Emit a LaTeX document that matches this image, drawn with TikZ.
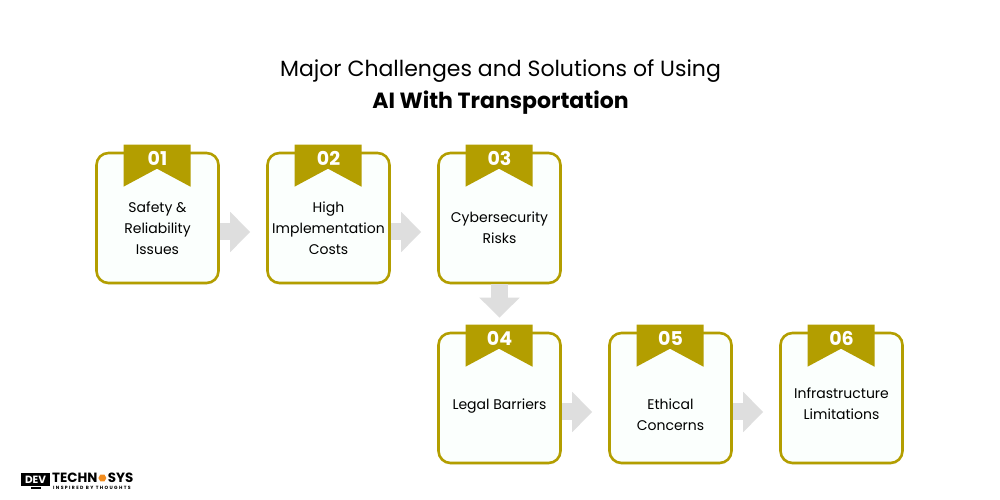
\documentclass[tikz,border=0pt]{standalone}
\usepackage{fontspec}
\setmainfont{Poppins}
\usepackage{tikz}
\usetikzlibrary{arrows.meta}
\usetikzlibrary{positioning}
\usetikzlibrary{shadows}
\usetikzlibrary{shapes.geometric}
\definecolor{olivegold}{HTML}{B39E00}
\definecolor{arrowgrey}{HTML}{DEDEDE}
\definecolor{boxfill}{HTML}{FBFFFD}
\definecolor{logohex}{HTML}{F28C1E}
\tikzset{
    titletext/.style = {align=center, inner sep=0pt, font=\fontsize{22}{32}\selectfont},
    card/.style = {rectangle, rounded corners=12pt, draw=olivegold, line width=2.6pt, fill=boxfill, minimum width=122pt, minimum height=130pt, inner sep=0pt, drop shadow={opacity=0.07, shadow xshift=0pt, shadow yshift=-2pt}},
    cardtext/.style = {align=center, inner sep=0pt, font=\fontsize{14}{21}\selectfont, text=black},
    tagnum/.style = {inner sep=0pt, font=\fontsize{19}{19}\selectfont\bfseries, text=white},
    flow/.style = {-{Triangle[width=39pt,length=20pt]}, arrowgrey, line width=17pt, shorten >=16pt},
    logotext/.style = {inner sep=0pt, anchor=west}
}
\begin{document}
\begin{tikzpicture}[x=1pt,y=1pt]
    \useasboundingbox (0,0) rectangle (1000,500);

    \node [titletext] (title) at (500.5,413) {Major Challenges and Solutions of Using\\ \textbf{AI With Transportation}};

    % cards
    \node [card] (card1) at (157.5,282) {};
    \node [card, right=46.4pt of card1] (card2) {};
    \node [card, right=46.4pt of card2] (card3) {};
    \node [card, below=47.4pt of card3] (card4) {};
    \node [card, right=46.4pt of card4] (card5) {};
    \node [card, right=46.4pt of card5] (card6) {};

    % ribbons
    \foreach \n/\num in {1/01,2/02,3/03,4/04,5/05,6/06} {
        \fill [olivegold] ([shift={(-34,7)}]card\n.north) -- ([shift={(33,7)}]card\n.north)
            -- ([shift={(33,-35)}]card\n.north) -- ([shift={(-0.5,-17)}]card\n.north)
            -- ([shift={(-34,-35)}]card\n.north) -- cycle;
        \node [tagnum] (num\n) at ([yshift=-7pt]card\n.north) {\num};
    }

    % texts
    \node [cardtext] (text1) at ([yshift=-10pt]card1.center) {Safety \&\\Reliability\\Issues};
    \node [cardtext] (text2) at ([yshift=-10pt]card2.center) {High\\Implementation\\Costs};
    \node [cardtext] (text3) at ([yshift=-10pt]card3.center) {Cybersecurity\\Risks};
    \node [cardtext] (text4) at ([yshift=-8pt]card4.center) {Legal Barriers};
    \node [cardtext] (text5) at ([yshift=-17pt]card5.center) {Ethical\\Concerns};
    \node [cardtext] (text6) at ([yshift=-6pt]card6.center) {Infrastructure\\Limitations};

    % arrows
    \draw [flow] ([yshift=-14pt]card1.east) -- ([yshift=-14pt]card2.west);
    \draw [flow] ([yshift=-14pt]card2.east) -- ([yshift=-14pt]card3.west);
    \draw [flow, shorten >=14pt] (card3.south) -- (card4.north);
    \draw [flow] ([yshift=-14pt]card4.east) -- ([yshift=-14pt]card5.west);
    \draw [flow] ([yshift=-14pt]card5.east) -- ([yshift=-14pt]card6.west);

    % logo
    \fill [black] (31,11) rectangle (41,13);
    \node [rectangle, fill=black, minimum width=29pt, minimum height=13pt, inner sep=0pt, text=white, font=\fontsize{10.5}{10.5}\selectfont\bfseries] (logobox) at (35.5,20.5) {DEV};
    \node [logotext, font=\fontsize{13.4}{13.4}\selectfont\bfseries] (logotech) at (52,22) {TECHN};
    \node [regular polygon, regular polygon sides=6, fill=logohex, minimum size=8pt, inner sep=0pt, right=0.5pt of logotech] (logohex) {};
    \node [logotext, font=\fontsize{13.4}{13.4}\selectfont\bfseries, right=1pt of logohex] (logosys) {SYS};
    \node [logotext, font=\fontsize{4.6}{5}\selectfont\bfseries\addfontfeatures{LetterSpace=30}] (logotag) at (53,12.5) {INSPIRED BY THOUGHTS};
\end{tikzpicture}
\end{document}
